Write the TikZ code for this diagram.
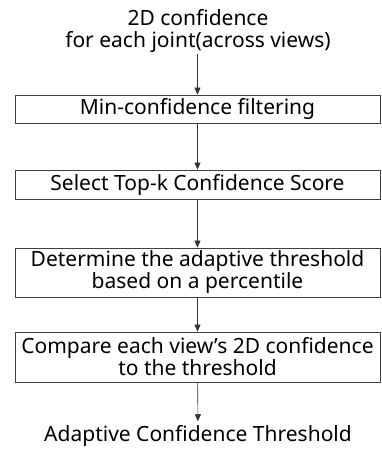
\documentclass[tikz,border=0pt]{standalone}
\usepackage{fontspec}
\setmainfont{Noto Sans}
\usetikzlibrary{arrows.meta}
\tikzset{
  stepbox/.style={draw=black!75, line width=0.9pt, minimum width=365pt,
                  inner sep=0pt, align=center, font=\fontsize{21}{22}\selectfont},
  plain/.style={align=center, inner sep=1pt, font=\fontsize{21}{22}\selectfont},
  flow/.style={-{Triangle[length=7pt,width=6pt]}, black!80, line width=0.6pt}
}
\begin{document}
\begin{tikzpicture}[x=1pt,y=-1pt]
    \useasboundingbox (0,0) rectangle (381,450);
    % Draw input and output
    \node (input) [plain] at (198,31) {2D confidence\\for each joint(across views)};
    \node (output) [plain, inner ysep=4pt] at (198,436) {Adaptive Confidence Threshold};
    % Draw steps
    \node (filter) [stepbox, minimum height=28pt] at (197.5,109) {Min-confidence filtering};
    \node (topk)   [stepbox, minimum height=29pt] at (197.5,184.5) {Select Top-k Confidence Score};
    \node (thresh) [stepbox, minimum height=49pt] at (197.5,272.5) {Determine the adaptive threshold\\based on a percentile};
    \node (compare)[stepbox, minimum height=50pt] at (197.5,357) {Compare each view's 2D confidence\\to the threshold};
    % Draw arrows
    \draw[flow] (input.south -| filter.north) -- (filter.north);
    \draw[flow] (filter) -- (topk);
    \draw[flow] (topk) -- (thresh);
    \draw[flow] (thresh) -- (compare);
    \draw[flow] (compare) -- (output);
\end{tikzpicture}
\end{document}
